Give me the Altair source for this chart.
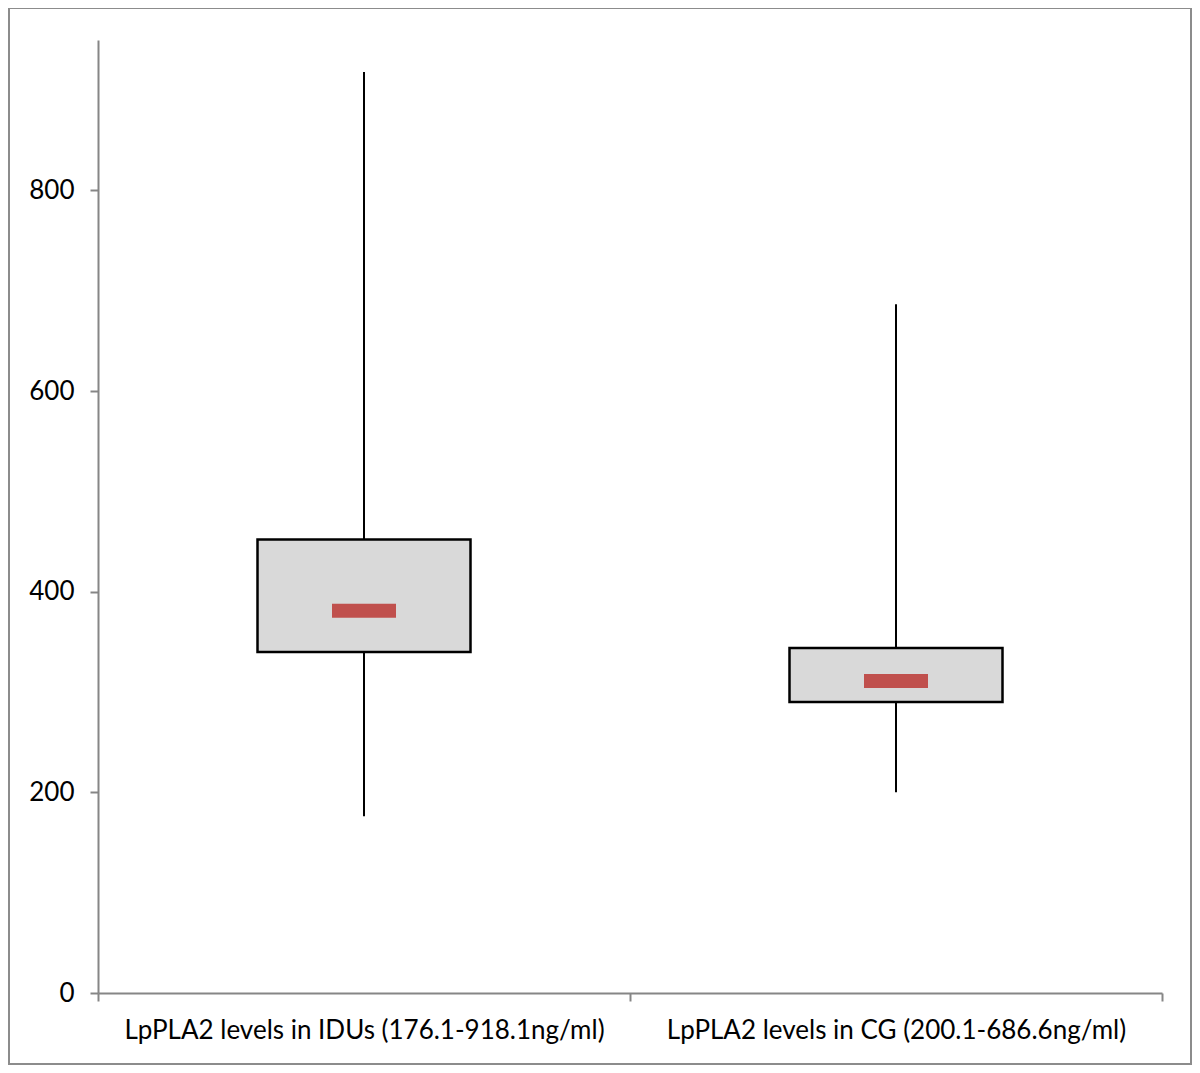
import altair as alt
import pandas as pd

categories = ["LpPLA2 levels in IDUs (176.1-918.1ng/ml)", "LpPLA2 levels in CG (200.1-686.6ng/ml)"]
mins = [176.1, 200.1]
q1 = [340, 290]
medians = [381, 311]
q3 = [452, 344]
maxs = [918.1, 686.6]
y_ticks = [0, 200, 400, 600, 800]

df = pd.DataFrame({"cat": categories, "min": mins, "q1": q1, "med": medians, "q3": q3, "max": maxs})

FONT = "Lato"
AX = "#868686"

x = alt.X("cat:N", sort=categories, title=None,
          scale=alt.Scale(paddingInner=0, paddingOuter=0),
          axis=alt.Axis(labelAngle=0, labelFont=FONT, labelFontSize=26, labelColor="black",
                        domainColor=AX, domainWidth=2, tickColor=AX, tickWidth=2, tickSize=8,
                        tickBand="extent", labelPadding=16, labelLimit=600))
y_scale = alt.Scale(domain=[0, 950], nice=False)
y_axis = alt.Axis(values=y_ticks, grid=False, labelFont=FONT, labelFontSize=26, labelColor="black",
                  domainColor=AX, domainWidth=2, tickColor=AX, tickWidth=2, tickSize=8,
                  labelPadding=16)

base = alt.Chart(df)

frame = alt.Chart(pd.DataFrame({"a": [0]})).mark_rect(
    fill="transparent", stroke="#8c8c8c", strokeWidth=2, clip=False
).encode(x=alt.value(-89), x2=alt.value(1093), y=alt.value(-32), y2=alt.value(1024))

whisk = base.mark_rule(color="black", strokeWidth=2).encode(
    x=x, y=alt.Y("min:Q", scale=y_scale, axis=y_axis, title=None), y2="max:Q")

box = base.mark_bar(size=213, fill="#d9d9d9", stroke="black", strokeWidth=2.5).encode(
    x=x, y=alt.Y("q1:Q", scale=y_scale, axis=y_axis, title=None), y2="q3:Q")

med = base.mark_tick(color="#c0504d", thickness=14, size=64, opacity=1).encode(
    x=x, y=alt.Y("med:Q", scale=y_scale, axis=y_axis, title=None))

chart = alt.layer(frame, whisk, box, med).properties(
    width=1064, height=953,
    autosize=alt.AutoSizeParams(type="none"),
    padding={"left": 90, "top": 32, "right": 30, "bottom": 72},
    background="white",
).configure_view(stroke=None)

chart.save("out.html", embed_options={"renderer": "svg", "actions": False})
